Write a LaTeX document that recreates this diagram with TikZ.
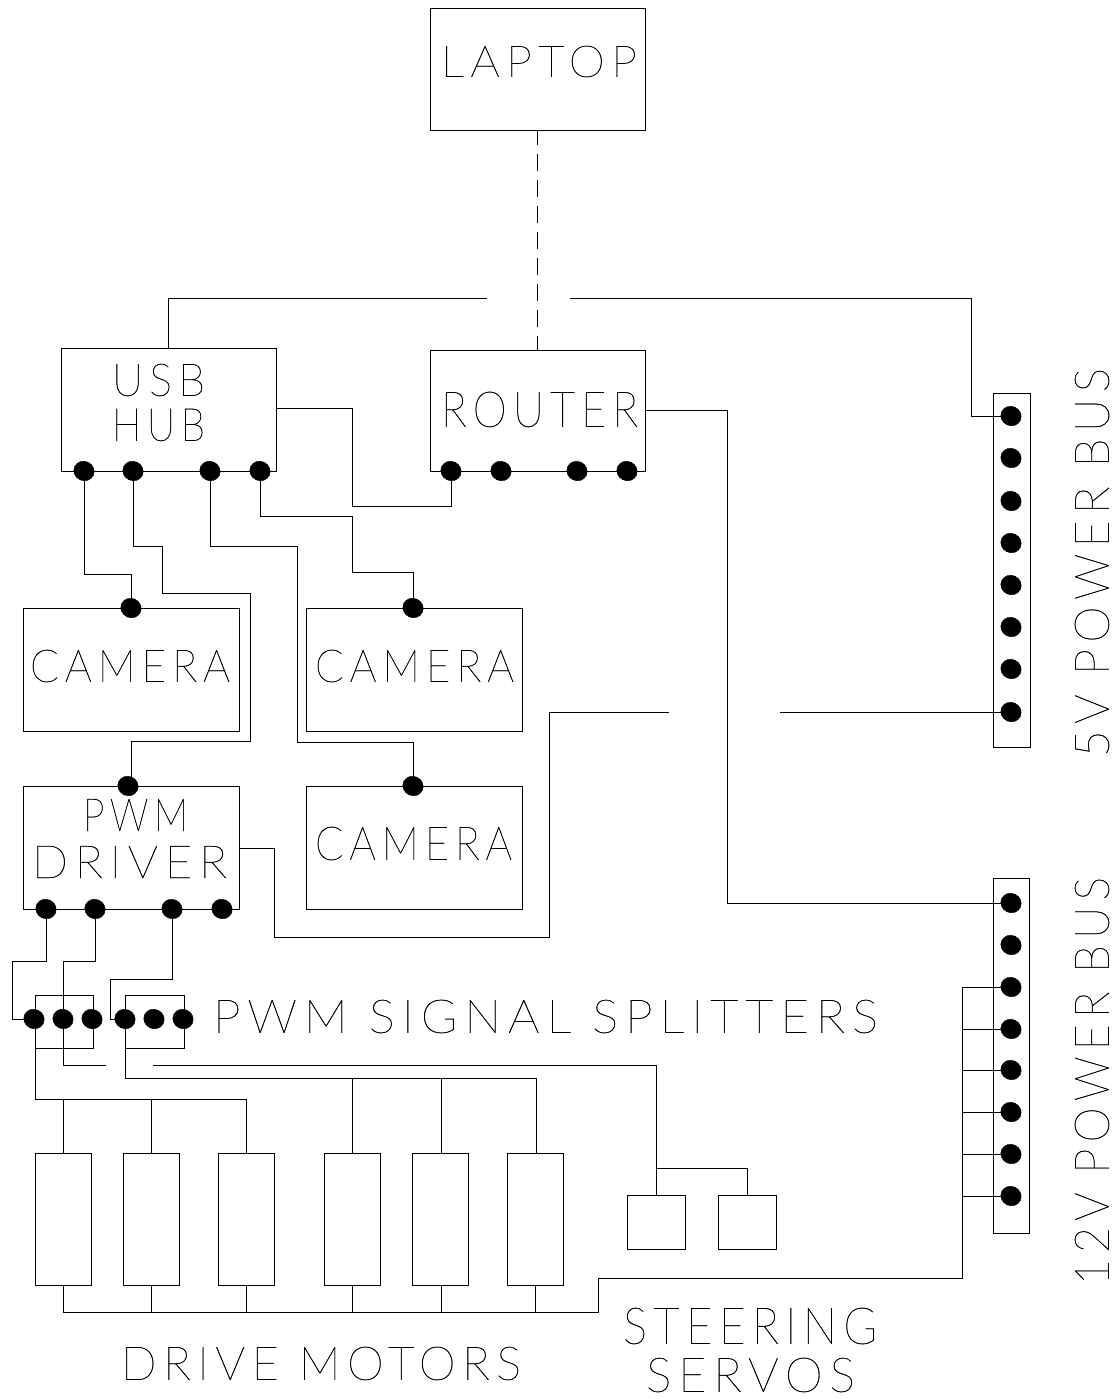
\documentclass[tikz,border=0pt]{standalone}
\usepackage{graphicx}
\usepackage{fontspec}
\usetikzlibrary{shapes.geometric,calc}
\newfontfamily\cad{Lato}[UprightFont=* Hairline,LetterSpace=14,FakeBold=0.6]
\tikzset{
 wire/.style={draw=black,line width=0.75pt,line join=miter},
 boxx/.style={draw=black,line width=0.75pt,rectangle,inner sep=0pt},
 pinn/.style={ellipse,fill=black,draw=black,line width=0.3pt,inner sep=0pt,minimum width=15.5pt,minimum height=14.5pt,rotate=-25},
 lbl/.style={inner sep=0pt,outer sep=0pt},
}
\newcommand{\boxat}[5]{\pgfmathsetlengthmacro\bw{(#4-#2)*0.75}\pgfmathsetlengthmacro\bh{(#5-#3)*0.75}%
 \node[boxx,minimum width=\bw,minimum height=\bh] (#1) at ({(#2+#4)/2},{(#3+#5)/2}) {};}
\newcommand{\txt}[6]{\pgfmathsetlengthmacro\bw{(#4-#2)*0.75}\pgfmathsetlengthmacro\bh{(#5-#3)*0.75}%
 \node[lbl] (#1) at ({(#2+#4)/2},{(#3+#5)/2}) {\resizebox{\bw}{\bh}{\cad #6}};}
\newcommand{\vtxt}[6]{\pgfmathsetlengthmacro\bw{(#5-#3)*0.75}\pgfmathsetlengthmacro\bh{(#4-#2)*0.75}%
 \node[lbl,rotate=90] (#1) at ({(#2+#4)/2},{(#3+#5)/2}) {\resizebox{\bw}{\bh}{\cad #6}};}
\begin{document}
\begin{tikzpicture}[x=0.75pt,y=-0.75pt]
\useasboundingbox (0,0) rectangle (1120,1399);
% boxes
\boxat{laptop}{430}{8}{645}{130}
\boxat{usb}{61}{348}{276}{471}
\boxat{router}{430}{350}{645}{471}
\boxat{camA}{23}{608}{239}{731}
\boxat{camB}{306}{608}{522}{731}
\boxat{camC}{306}{786}{522}{909}
\boxat{pwm}{23}{786}{239}{909}
\boxat{busF}{993}{393}{1030}{747}
\boxat{busT}{993}{878}{1029}{1233}
\boxat{splA}{35}{995}{93}{1048}
\boxat{splB}{125.5}{995}{184}{1048}
\boxat{motA}{35}{1153}{91}{1285}
\boxat{motB}{123}{1153}{179}{1285}
\boxat{motC}{218}{1153}{274}{1285}
\boxat{motD}{324}{1153}{380}{1285}
\boxat{motE}{412}{1153}{468}{1285}
\boxat{motF}{507}{1153}{563}{1285}
\boxat{srvA}{627}{1195}{685}{1249}
\boxat{srvB}{718}{1195}{776}{1249}
% pins
\foreach \n/\x/\y in {ua/84/471,ub/133/471,uc/210/471,ud/260/471,
 ra/451/471,rb/501/471,rc/577/471,rd/627/471,
 ca/131/608,cb/413/608,cc/413/786,pt/128/786,
 pa/46/909,pb/95/909,pc/172/909,pd/222/909,
 sa/34/1019,sb/63/1019,sc/92/1019,sd/125/1019,se/154/1019,sf/183/1019,
 fa/1011/416,fb/1011/458,fc/1011/501,fd/1011/543,fe/1011/585,ff/1011/627,fg/1011/669,fh/1011/712,
 ta/1011/903,tb/1011/945,tc/1011/987,td/1011/1029,te/1011/1070,tf/1011/1112,tg/1011/1154,th/1011/1196}
 {\node[pinn] (\n) at (\x,\y) {};}
% free ends
\coordinate (gapL) at (487,298);
\coordinate (gapR) at (570,298);
\coordinate (gapC) at (669,712);
\coordinate (gapD) at (780,712);
\coordinate (gapE) at (106,1065);
\coordinate (gapF) at (153,1065);
% top
\draw[wire,dash pattern=on 13.1pt off 6.4pt,dash phase=2pt] (537.5,0 |- laptop.south) -- (537.5,0 |- router.north);
\draw[wire] (gapL) -- (168,298) -- (168,0 |- usb.north);
\draw[wire] (gapR) -- (971,298) -- (971,416) -- (fa.center);
\draw[wire] (usb.east |- 0,408) -- (352,408) -- (352,506) -- (451,506) -- (ra.center);
\draw[wire] (router.east |- 0,410) -- (727,410) -- (727,903) -- (ta.center);
% hub outputs
\draw[wire] (ua.center) -- (84,574) -- (131,574) -- (ca.center);
\draw[wire] (ub.center) -- (133,546) -- (162,546) -- (162,593) -- (250,593) -- (250,741) -- (131,741) -- (131,786 |- pt.center);
\draw[wire] (uc.center) -- (210,546) -- (297,546) -- (297,742) -- (413,742) -- (cc.center);
\draw[wire] (ud.center) -- (260,516) -- (352,516) -- (352,572) -- (413,572) -- (cb.center);
% pwm
\draw[wire] (pwm.east |- 0,848) -- (274,848) -- (274,937) -- (549,937) -- (549,712) -- (gapC);
\draw[wire] (gapD) -- (fh.center);
\draw[wire] (pa.center) -- (46,961) -- (12,961) -- (12,1019) -- (sa.center);
\draw[wire] (pb.center) -- (95,961) -- (63,961) -- (63,1065) -- (gapE);
\draw[wire] (gapF) -- (656,1065) -- (656,1168) -- (747,1168) -- (747,0 |- srvB.north);
\draw[wire] (656,1168) -- (656,0 |- srvA.north);
\draw[wire] (pc.center) -- (172,979) -- (110,979) -- (110,1019) -- (sd.center);
% motors
\draw[wire] (sa.center) -- (35,1019) -- (35,1099) -- (246,1099) -- (246,0 |- motC.north);
\draw[wire] (63,1099) -- (63,0 |- motA.north);
\draw[wire] (151,1099) -- (151,0 |- motB.north);
\draw[wire] (sd.center) -- (125,1078) -- (536,1078) -- (536,0 |- motF.north);
\draw[wire] (352,1078) -- (352,0 |- motD.north);
\draw[wire] (441,1078) -- (441,0 |- motE.north);
\draw[wire] (63,0 |- motA.south) -- (63,1312) -- (598,1312) -- (598,1278) -- (962,1278) -- (962,987) -- (tc.center);
\draw[wire] (151,0 |- motB.south) -- (151,1312);
\draw[wire] (246,0 |- motC.south) -- (246,1312);
\draw[wire] (352,0 |- motD.south) -- (352,1312);
\draw[wire] (441,0 |- motE.south) -- (441,1312);
\draw[wire] (535,0 |- motF.south) -- (535,1312);
\draw[wire] (962,1029) -- (td.center);
\draw[wire] (962,1070) -- (te.center);
\draw[wire] (962,1112) -- (tf.center);
\draw[wire] (962,1154) -- (tg.center);
\draw[wire] (962,1196) -- (th.center);
% text
\txt{tLaptop}{441}{46}{637}{77}{LAPTOP}
\txt{tUsb}{112}{364}{205}{396}{USB}
\txt{tHub}{112}{409}{205}{441}{HUB}
\txt{tRouter}{441}{392}{638}{427}{ROUTER}
\txt{tCamA}{30}{650}{230}{682}{CAMERA}
\txt{tCamB}{315}{650}{514}{682}{CAMERA}
\txt{tCamC}{315}{827}{512}{860}{CAMERA}
\txt{tPwm}{83}{799}{188}{831}{PWM}
\txt{tDriver}{32}{846}{227}{878}{DRIVER}
\txt{tSplit}{213}{1000}{878}{1033}{PWM SIGNAL SPLITTERS}
\txt{tDrive}{121}{1347}{521}{1380}{DRIVE MOTORS}
\txt{tSteer}{623}{1308}{877}{1344}{STEERING}
\txt{tServo}{646}{1358}{855}{1392}{SERVOS}
\vtxt{tFive}{1075}{368}{1109}{757}{5V POWER BUS}
\vtxt{tTwelve}{1075}{877}{1109}{1285}{12V POWER BUS}
\end{tikzpicture}
\end{document}
